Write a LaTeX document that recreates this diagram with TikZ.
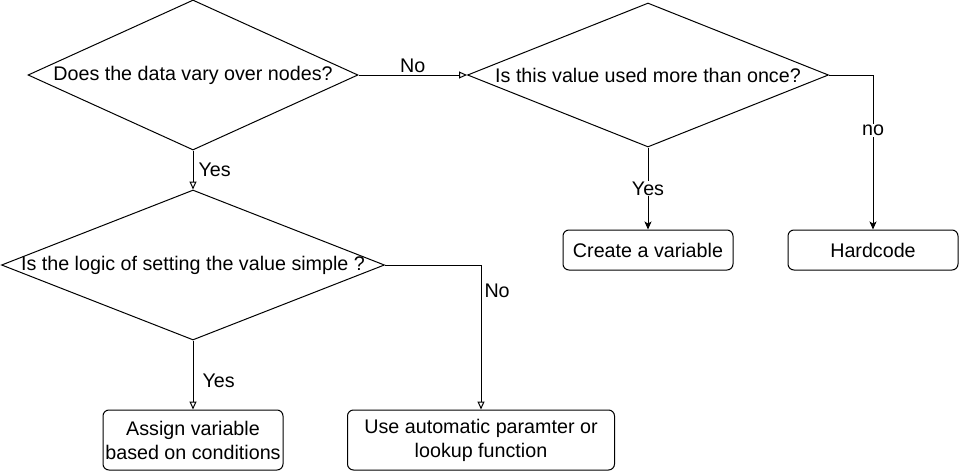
\documentclass[tikz,border=0pt]{standalone}
\usepackage{fontspec}
\setmainfont{Liberation Sans}
\usetikzlibrary{shapes.geometric,arrows.meta}
\tikzset{
  ask/.style={draw, diamond, inner sep=0pt, line width=1pt},
  act/.style={draw, rounded corners=6pt, minimum height=40pt, inner sep=1pt, line width=1pt, align=center},
  opn/.style={-{Triangle[open,length=8pt,width=7pt]}, line width=1pt},
  sld/.style={-{Stealth[length=8pt,width=7pt,inset=2pt]}, line width=1pt},
  lbl/.style={fill=white, inner sep=1pt}
}
\newcommand{\asktext}[1]{\makebox[0pt]{#1}}
\begin{document}
\begin{tikzpicture}[x=1pt,y=-1pt,font=\fontsize{19.7}{24}\selectfont]
\useasboundingbox (0,0) rectangle (959,471);
\begin{scope}
  \node[ask, minimum width=330pt, minimum height=150pt] (vary) at (193,75) {\asktext{Does the data vary over nodes?}};
  \node[ask, minimum width=361pt, minimum height=144pt] (once) at (648,75) {\asktext{Is this value used more than once?}};
  \node[ask, minimum width=383pt, minimum height=150pt] (simple) at (193,265) {\asktext{Is the logic of setting the value simple ?}};
  \node[act, minimum width=170pt] (var) at (648,250) {Create a variable};\node[act, minimum width=170pt] (hard) at (873,250) {Hardcode};
  \node[act, minimum width=180pt, minimum height=60pt] (assign) at (193,440) {Assign variable\\based on conditions};
  \node[act, minimum width=267pt, minimum height=60pt] (lookup) at (481,440) {Use automatic paramter or\\lookup function};
\end{scope}
\begin{scope}
  \draw[opn] (vary.east) -- node[lbl, above=1pt] {No} (once.west);\draw[opn] (vary.south) -- node[lbl, right=4pt] {Yes} (simple.north);
  \draw[sld] (once.south) -- node[lbl] {Yes} (var.north);\draw[sld] (once.east) -| node[lbl, pos=0.68] {no} (hard.north);
  \draw[opn] (simple.east) -| node[lbl, right=2pt, pos=0.59] {No} (lookup.north);\draw[opn] (simple.south) -- node[lbl, right=8pt, pos=0.59] {Yes} (assign.north);
\end{scope}
\end{tikzpicture}
\end{document}
